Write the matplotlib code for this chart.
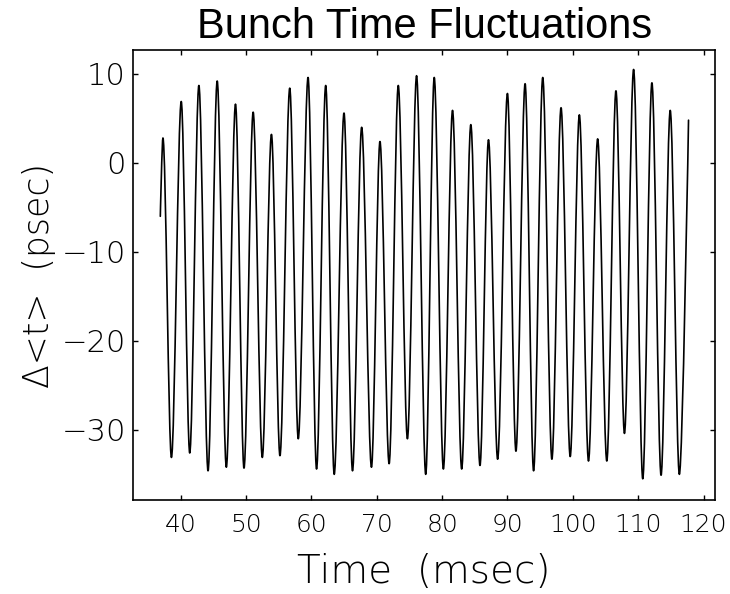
import matplotlib
matplotlib.use("Agg")
import matplotlib.pyplot as plt
from matplotlib.path import Path
from matplotlib.patches import PathPatch

# Extrema of the oscillation (time in msec, value in psec)
time_ms = [36.9, 37.3, 38.6, 40.1, 41.4, 42.8, 44.2, 45.6, 47.0, 48.4, 49.7,
           51.1, 52.5, 53.9, 55.2, 56.7, 58.0, 59.5, 60.8, 62.2, 63.5, 65.0,
           66.3, 67.7, 69.2, 70.5, 71.9, 73.3, 74.7, 76.1, 77.5, 78.8, 80.2,
           81.6, 83.0, 84.4, 85.8, 87.1, 88.5, 90.0, 91.3, 92.7, 94.0, 95.4,
           96.8, 98.2, 99.6, 101.0, 102.4, 103.8, 105.2, 106.6, 107.9, 109.3,
           110.7, 112.1, 113.5, 114.9, 116.3, 117.7]
dt_ps = [-6.0, 2.8, -33.1, 6.9, -32.6, 8.7, -34.6, 9.2, -34.2, 6.6, -34.3,
         5.7, -33.1, 3.2, -32.9, 8.4, -31.0, 9.6, -34.4, 8.7, -35.0, 5.6,
         -34.6, 4.0, -34.2, 2.4, -33.8, 8.7, -31.0, 9.8, -35.0, 9.6, -34.4,
         5.9, -34.4, 4.3, -34.0, 2.6, -33.3, 7.8, -32.4, 8.9, -34.6, 9.6,
         -33.3, 6.2, -33.0, 5.4, -33.5, 2.7, -33.5, 8.1, -30.4, 10.5,
         -35.5, 9.0, -35.1, 5.9, -35.0, 4.8]

x_ticks = [40, 50, 60, 70, 80, 90, 100, 110, 120]
y_ticks = [10, 0, -10, -20, -30]

fig = plt.figure(figsize=(7.3, 5.94), dpi=100)
ax = fig.add_axes([0.182, 0.158, 0.797, 0.758])

# Smooth (sine-like) drawing between the extrema: cubic Bezier segments with
# flat tangents at every turning point.
K = 0.33
n = len(time_ms)
verts = [(time_ms[0], dt_ps[0])]
codes = [Path.MOVETO]
for i in range(n - 1):
    x0, y0 = time_ms[i], dt_ps[i]
    x1, y1 = time_ms[i + 1], dt_ps[i + 1]
    h = x1 - x0
    k0 = 0.0 if i == 0 else K
    k1 = 0.0 if i + 1 == n - 1 else K
    verts += [(x0 + k0 * h, y0), (x1 - k1 * h, y1), (x1, y1)]
    codes += [Path.CURVE4, Path.CURVE4, Path.CURVE4]
ax.add_patch(PathPatch(Path(verts, codes), fill=False, edgecolor="black",
                       linewidth=1.2, joinstyle="round", capstyle="round"))

ax.set_xlim(32.7, 121.7)
ax.set_ylim(-37.9, 12.7)
ax.set_xticks(x_ticks)
ax.set_yticks(y_ticks)
ax.set_xticklabels([str(v) for v in x_ticks], fontfamily="DejaVu Sans",
                   fontweight="light", fontsize=18)
ax.set_yticklabels([str(v).replace("-", "\u2212") for v in y_ticks],
                   fontfamily="DejaVu Sans", fontweight="light", fontsize=22)
ax.tick_params(direction="in", length=3.8, width=1.0, top=True, right=True,
               colors="black")
ax.tick_params(axis="x", pad=9)
ax.tick_params(axis="y", pad=5)
for s in ax.spines.values():
    s.set_linewidth(1.2)

ax.set_xlabel("Time  (msec)", fontfamily="DejaVu Sans", fontweight="light",
              fontsize=28, labelpad=12)
ax.set_ylabel("\u0394<t>  (psec)", fontfamily="DejaVu Sans", fontweight="light",
              fontsize=25, labelpad=4)
fig.text(0.582, 0.936, "Bunch Time Fluctuations", ha="center", va="baseline",
         fontfamily="Liberation Sans", fontsize=30)

fig.savefig("out.png", dpi=100)
